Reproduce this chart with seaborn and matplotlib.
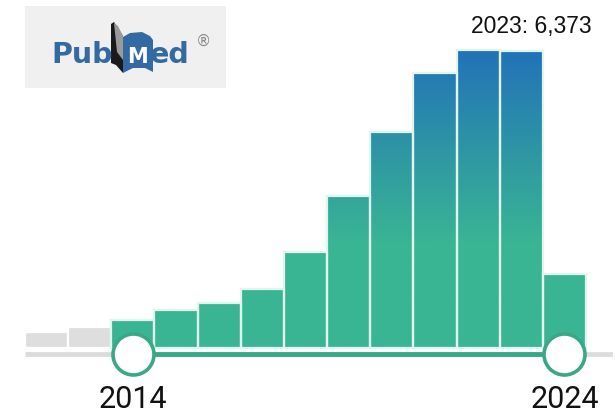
import numpy as np
import pandas as pd
import matplotlib
matplotlib.use("Agg")
import matplotlib.pyplot as plt
import seaborn as sns
from matplotlib.colors import LinearSegmentedColormap
from matplotlib.patches import Rectangle, Polygon

# ---- data ----
years = [2012, 2013, 2014, 2015, 2016, 2017, 2018, 2019, 2020, 2021, 2022, 2023, 2024]
counts = [350, 444, 601, 815, 959, 1266, 2067, 3262, 4642, 5908, 6395, 6373, 1588]
sel_start, sel_end = 2014, 2024
tooltip = "2023: 6,373"
start_label, end_label = "2014", "2024"

W, H = 615, 420
sns.set_theme(style="white")
plt.rcParams["font.family"] = ["Liberation Sans", "DejaVu Sans"]

fig = plt.figure(figsize=(W / 100, H / 100), dpi=100)
fig.patch.set_facecolor("white")

slot = (586 - 25) / 13.0
xmax = 12.5 + (613 - 586) / slot
ax = fig.add_axes([25 / W, 0, (613 - 25) / W, 1])

df = pd.DataFrame({"year": [str(y) for y in years], "count": counts})
in_sel = [sel_start <= y <= sel_end for y in years]
green = "#3ab594"
palette = [green if s else "#dedede" for s in in_sel]
sns.barplot(data=df, x="year", y="count", hue="year", palette=palette, legend=False,
            width=1.0, saturation=1, ax=ax, edgecolor="white", linewidth=1.6)

ppx = 6373 / (348 - 51)
ymin = -(H - 348) * ppx
ymax = 348 * ppx

# gradient fill for selected bars
cmap = LinearSegmentedColormap.from_list("pm", [(0, "#3ab594"), (0.45, "#2f98a3"), (1, "#2272b8")])
yy = np.linspace(0, 6500, 600)
t = np.clip((yy - 2200) / (6400 - 2200), 0, 1)
grad = t[:, None]
for patch, s in zip(ax.patches, in_sel):
    if not s:
        continue
    im = ax.imshow(grad, cmap=cmap, vmin=0, vmax=1, extent=[-0.5, 12.5, 0, 6500],
                   origin="lower", aspect="auto", zorder=1.5, interpolation="bilinear")
    im.set_clip_path(patch)
    patch.set_facecolor("none")
    patch.set_edgecolor("#dff5ee")
    patch.set_zorder(2)

# slider
yl = -(354 - 348) * ppx
i0 = years.index(sel_start)
i1 = years.index(sel_end)
ax.plot([-0.5, i0], [yl, yl], color="#dcdcdc", lw=3.5, solid_capstyle="butt", zorder=3)
ax.plot([i1, xmax], [yl, yl], color="#dcdcdc", lw=3.5, solid_capstyle="butt", zorder=3)
ax.plot([i0, i1], [yl, yl], color="#35a886", lw=3.5, solid_capstyle="butt", zorder=3)
ax.scatter([i0, i1], [yl, yl], s=870, facecolor="white", edgecolor="#3aa887", linewidth=2.6, zorder=5)

ylab = -(400 - 348) * ppx
ax.text(i0, ylab, start_label, ha="center", va="center", fontsize=22, color="#111111",
        family=["Roboto", "DejaVu Sans"])
ax.text(i1, ylab, end_label, ha="center", va="center", fontsize=22, color="#111111",
        family=["Roboto", "DejaVu Sans"])

ax.set_xlim(-0.5, xmax)
ax.set_ylim(ymin, ymax)
ax.axis("off")

# overlay in pixel coordinates for logo and tooltip
ov = fig.add_axes([0, 0, 1, 1], zorder=10)
ov.set_xlim(0, W)
ov.set_ylim(H, 0)
ov.axis("off")
ov.patch.set_alpha(0)

ov.add_patch(Rectangle((25, 6), 201, 82, facecolor="#f0f0f0", edgecolor="none"))
blue = "#336aa3"
ov.text(51, 63, "Pub", fontsize=20.5, fontweight="bold", color=blue, ha="left", va="baseline",
        family=["DejaVu Sans"])
# book pages
ov.add_patch(Polygon([(111, 24), (114, 22), (123, 36), (123, 73), (116, 65), (111, 63)],
                     closed=True, facecolor="#1a1a1a", edgecolor="none"))
ov.add_patch(Polygon([(114, 23), (118, 26), (123, 36), (123, 60), (117, 52)],
                     closed=True, facecolor="#9a9a9a", edgecolor="none"))
ov.add_patch(Polygon([(123, 37), (130, 33), (142, 32), (150, 36), (153, 40), (153, 72),
                      (145, 68), (133, 68), (123, 73)],
                     closed=True, facecolor=blue, edgecolor="none"))
ov.text(127.5, 63, "M", fontsize=15, fontweight="bold", color="white", ha="left", va="baseline",
        family=["DejaVu Sans"])
ov.text(150, 63, "ed", fontsize=20.5, fontweight="bold", color=blue, ha="left", va="baseline",
        family=["DejaVu Sans"])
ov.text(196, 41, "®", fontsize=11, color="#888888", ha="left", va="center", family=["DejaVu Sans"])

ov.text(531, 27, tooltip, fontsize=16.5, color="#111111", ha="center", va="center",
        family=["Liberation Sans Narrow", "Liberation Sans", "DejaVu Sans"])

fig.savefig("out.png", dpi=100)
